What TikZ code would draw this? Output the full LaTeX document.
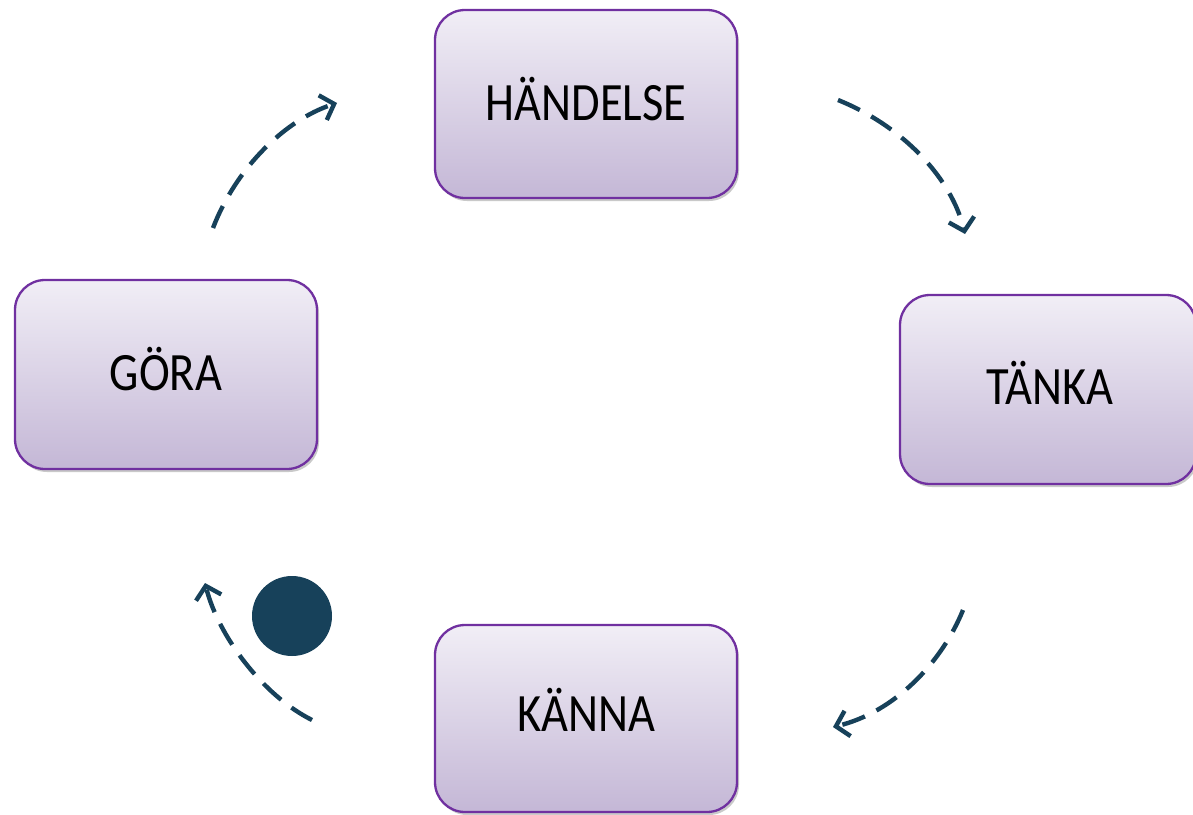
\documentclass[tikz,border=0pt]{standalone}
\usepackage{fontspec}
\setmainfont{Carlito}
\usetikzlibrary{arrows.meta,shadows}
\definecolor{boxborder}{RGB}{112,48,160}
\definecolor{boxtop}{RGB}{241,238,246}
\definecolor{boxbot}{RGB}{196,183,214}
\definecolor{arrowcol}{RGB}{23,65,90}
\tikzset{
  stagebox/.style={draw=boxborder, line width=2.3pt, rounded corners=30pt,
    top color=boxtop, bottom color=boxbot,
    drop shadow={shadow xshift=2pt, shadow yshift=-3pt, opacity=0.35, fill=black!60}},
  stagelabel/.style={text=black, font=\fontsize{54}{60}\selectfont, inner sep=0pt, anchor=base},
  cyclearrow/.style={draw=arrowcol, line width=4.4pt, dash pattern=on 24pt off 13pt,
    -{Straight Barb[length=12pt, width=26pt, line width=4.4pt]}}
}
\newcommand{\stxt}[1]{\scalebox{0.86}[1]{#1}}
\begin{document}
\begin{tikzpicture}[x=1pt,y=-1pt]
\useasboundingbox (0,0) rectangle (1193,814);
\fill[white] (0,0) rectangle (1193,814);
% boxes
\path[stagebox] (435,10) rectangle (737,198);
\node[stagelabel] (hand) at (586,120) {\stxt{HÄNDELSE}};
\path[stagebox] (900,295) rectangle (1196,484);
\node[stagelabel] (tank) at (1050,404) {\stxt{TÄNKA}};
\path[stagebox] (435,625) rectangle (737,812);
\node[stagelabel] (kann) at (586,731) {\stxt{KÄNNA}};
\path[stagebox] (15,280) rectangle (317,469);
\node[stagelabel] (gora) at (166,390) {\stxt{GÖRA}};
% arrows
\coordinate (a1s) at (838,100); \coordinate (a1e) at (965,234);
\coordinate (a2s) at (963,610); \coordinate (a2e) at (833,727);
\coordinate (a3s) at (312,720); \coordinate (a3e) at (205,583);
\coordinate (a4s) at (213,228); \coordinate (a4e) at (337,103);
\draw[cyclearrow] (a1s) .. controls (905,127) and (952,180) .. (a1e);
\draw[cyclearrow] (a2s) .. controls (942,662) and (895,712) .. (a2e);
\draw[cyclearrow] (a3s) .. controls (262,695) and (218,635) .. (a3e);
\draw[cyclearrow] (a4s) .. controls (236,168) and (285,120) .. (a4e);
% dot
\node[circle, fill=arrowcol, minimum size=80pt, inner sep=0pt] (dot) at (292,616) {};
\end{tikzpicture}
\end{document}
